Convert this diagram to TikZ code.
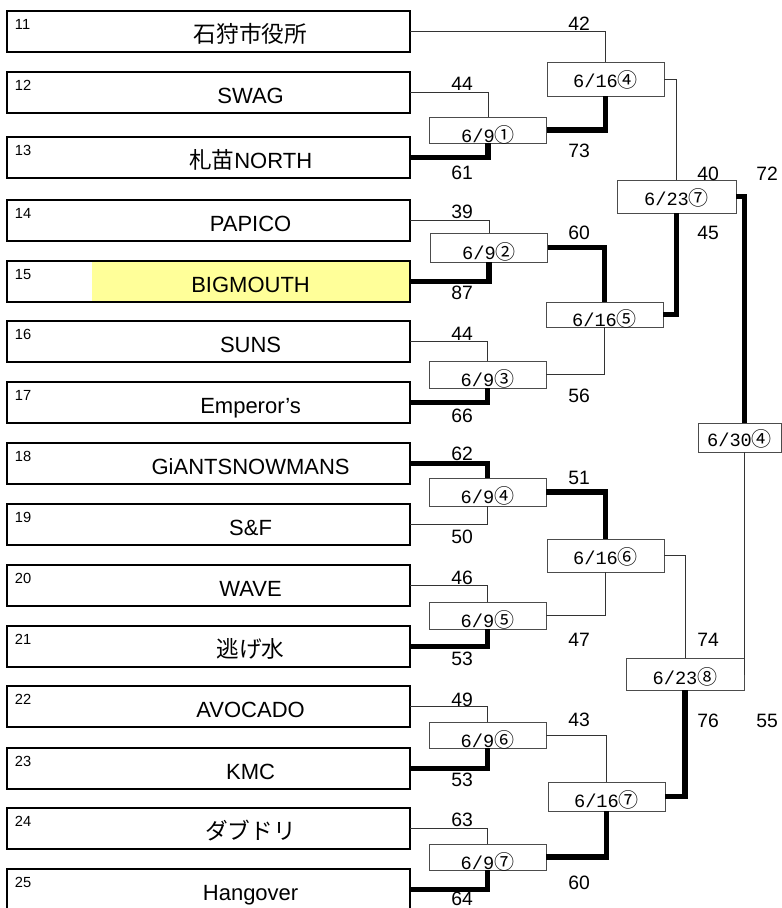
\documentclass[tikz,border=0pt]{standalone}
\usepackage{fontspec}
\setmainfont{Liberation Sans}
\newfontfamily\jp{Noto Sans CJK JP}
\newfontfamily\gfont{Liberation Mono}
\usepackage{tikz}
\usetikzlibrary{positioning,calc}
\definecolor{hilite}{HTML}{FFFF99}
\tikzset{
    % Define winner line
    win/.style={
           line width=4pt,
           black},
    % Define loser line
    lose/.style={
           line width=0.75pt,
           black!80}
}
\newcommand{\teamwidth}{302.25pt}
\newcommand{\teamheight}{30.75pt}
\newcommand{\gamewidth}{87.75pt}
\newcommand{\maru}[1]{{\jp\fontsize{15pt}{15pt}\selectfont #1}}
\newcommand{\jpname}[1]{{\jp\fontsize{17pt}{20pt}\selectfont #1}}

\begin{document}
\begin{tikzpicture}[x=0.75pt, y=-0.75pt, node distance=0cm, outer sep=0pt]
\tikzstyle{team}=[draw, rectangle, line width=1.6pt, minimum height=\teamheight, minimum width=\teamwidth, anchor=north west]
\tikzstyle{tname}=[rectangle, minimum height=29pt, minimum width=237.5pt, anchor=east, text height=15.75pt, text depth=0pt, font=\fontsize{16.5pt}{19pt}\selectfont]
\tikzstyle{tnum}=[anchor=north west, inner sep=0pt, font=\fontsize{11pt}{13pt}\selectfont]
\tikzstyle{game}=[draw=black!70, rectangle, line width=0.75pt, minimum width=\gamewidth, anchor=north west]
\tikzstyle{gtext}=[anchor=base, inner sep=0pt, font=\gfont\fontsize{14pt}{16pt}\selectfont]
\tikzstyle{score}=[inner sep=0pt, font=\fontsize{14.5pt}{16pt}\selectfont]

\useasboundingbox (0,0) rectangle (782,908);

\node[team] (t11) at (7,11) {};
\node[team] (t12) at (7,72) {};
\node[team] (t13) at (7,137) {};
\node[team] (t14) at (7,200) {};
\node[team] (t15) at (7,261) {};
\node[team] (t16) at (7,321) {};
\node[team] (t17) at (7,382) {};
\node[team] (t18) at (7,443) {};
\node[team] (t19) at (7,504) {};
\node[team] (t20) at (7,565) {};
\node[team] (t21) at (7,626) {};
\node[team] (t22) at (7,686) {};
\node[team] (t23) at (7,748) {};
\node[team] (t24) at (7,808) {};
\node[team] (t25) at (7,869) {};

\node[tname] (n11) at ([xshift=-0.8pt]t11.east) {\jpname{石狩市役所}};
\node[tname] (n12) at ([xshift=-0.8pt]t12.east) {SWAG};
\node[tname] (n13) at ([xshift=-0.8pt]t13.east) {\jpname{札苗}NORTH};
\node[tname] (n14) at ([xshift=-0.8pt]t14.east) {PAPICO};
\node[tname, fill=hilite] (n15) at ([xshift=-0.8pt]t15.east) {BIGMOUTH};
\node[tname] (n16) at ([xshift=-0.8pt]t16.east) {SUNS};
\node[tname] (n17) at ([xshift=-0.8pt]t17.east) {Emperor’s};
\node[tname] (n18) at ([xshift=-0.8pt]t18.east) {GiANTSNOWMANS};
\node[tname] (n19) at ([xshift=-0.8pt]t19.east) {S\&F};
\node[tname] (n20) at ([xshift=-0.8pt]t20.east) {WAVE};
\node[tname] (n21) at ([xshift=-0.8pt]t21.east) {\jpname{逃げ水}};
\node[tname] (n22) at ([xshift=-0.8pt]t22.east) {AVOCADO};
\node[tname] (n23) at ([xshift=-0.8pt]t23.east) {KMC};
\node[tname] (n24) at ([xshift=-0.8pt]t24.east) {\jpname{ダブドリ}};
\node[tname] (n25) at ([xshift=-0.8pt]t25.east) {Hangover};

\node[tnum] (k11) at ([xshift=6pt,yshift=-6.5pt]t11.north west) {11};
\node[tnum] (k12) at ([xshift=6pt,yshift=-6.5pt]t12.north west) {12};
\node[tnum] (k13) at ([xshift=6pt,yshift=-6.5pt]t13.north west) {13};
\node[tnum] (k14) at ([xshift=6pt,yshift=-6.5pt]t14.north west) {14};
\node[tnum] (k15) at ([xshift=6pt,yshift=-6.5pt]t15.north west) {15};
\node[tnum] (k16) at ([xshift=6pt,yshift=-6.5pt]t16.north west) {16};
\node[tnum] (k17) at ([xshift=6pt,yshift=-6.5pt]t17.north west) {17};
\node[tnum] (k18) at ([xshift=6pt,yshift=-6.5pt]t18.north west) {18};
\node[tnum] (k19) at ([xshift=6pt,yshift=-6.5pt]t19.north west) {19};
\node[tnum] (k20) at ([xshift=6pt,yshift=-6.5pt]t20.north west) {20};
\node[tnum] (k21) at ([xshift=6pt,yshift=-6.5pt]t21.north west) {21};
\node[tnum] (k22) at ([xshift=6pt,yshift=-6.5pt]t22.north west) {22};
\node[tnum] (k23) at ([xshift=6pt,yshift=-6.5pt]t23.north west) {23};
\node[tnum] (k24) at ([xshift=6pt,yshift=-6.5pt]t24.north west) {24};
\node[tnum] (k25) at ([xshift=6pt,yshift=-6.5pt]t25.north west) {25};

% 6/9
\node[game, minimum height=19.5pt] (g1) at (429.5,117) {};
\node[game, minimum height=21.75pt] (g2) at (430.5,233) {};
\node[game, minimum height=20.25pt] (g3) at (429,361) {};
\node[game, minimum height=21pt] (g4) at (429,478) {};
\node[game, minimum height=20.25pt] (g5) at (429,602) {};
\node[game, minimum height=19.5pt] (g6) at (429,722) {};
\node[game, minimum height=19.5pt] (g7) at (429,844) {};
% 6/16
\node[game, minimum height=25.5pt] (s4) at (547,62) {};
\node[game, minimum height=18.75pt] (s5) at (546,302) {};
\node[game, minimum height=24.75pt] (s6) at (547,539) {};
\node[game, minimum height=21.75pt] (s7) at (548,782) {};
% 6/23, 6/30
\node[game, minimum height=24.75pt, minimum width=89.25pt] (q7) at (617,180) {};
\node[game, minimum height=24pt, minimum width=88.5pt] (q8) at (626,658) {};
\node[game, minimum height=21.75pt, minimum width=62.25pt] (f4) at (698,423) {};

\node[gtext] (g1t) at ($(g1.north)+(0,25)$) {6/9\maru{①}};
\node[gtext] (g2t) at ($(g2.north)+(0,26)$) {6/9\maru{②}};
\node[gtext] (g3t) at ($(g3.north)+(0,25.5)$) {6/9\maru{③}};
\node[gtext] (g4t) at ($(g4.north)+(0,25)$) {6/9\maru{④}};
\node[gtext] (g5t) at ($(g5.north)+(0,25)$) {6/9\maru{⑤}};
\node[gtext] (g6t) at ($(g6.north)+(0,25)$) {6/9\maru{⑥}};
\node[gtext] (g7t) at ($(g7.north)+(0,25)$) {6/9\maru{⑦}};
\node[gtext] (s4t) at ($(s4.north)+(0,25)$) {6/16\maru{④}};
\node[gtext] (s5t) at ($(s5.north)+(0,24)$) {6/16\maru{⑤}};
\node[gtext] (s6t) at ($(s6.north)+(0,25)$) {6/16\maru{⑥}};
\node[gtext] (s7t) at ($(s7.north)+(0,25)$) {6/16\maru{⑦}};
\node[gtext] (q7t) at ($(q7.north)+(0,25)$) {6/23\maru{⑦}};
\node[gtext] (q8t) at ($(q8.north)+(0,26)$) {6/23\maru{⑧}};
\node[gtext] (f4t) at ($(f4.north)+(0,23)$) {6/30\maru{④}};

% scores
\node[score] (pt12) at (462,84) {44};
\node[score] (pt13) at (462,172.5) {61};
\node[score] (pt14) at (462,212) {39};
\node[score] (pt15) at (462,292.5) {87};
\node[score] (pt16) at (462,333.5) {44};
\node[score] (pt17) at (462,415.5) {66};
\node[score] (pt18) at (462,454) {62};
\node[score] (pt19) at (462,536.5) {50};
\node[score] (pt20) at (462,578) {46};
\node[score] (pt21) at (462,658.5) {53};
\node[score] (pt22) at (462,699.5) {49};
\node[score] (pt23) at (462,779.5) {53};
\node[score] (pt24) at (462,820) {63};
\node[score] (pt25) at (462,899) {64};
\node[score] (pt11) at (579,23.5) {42};
\node[score] (ptg1) at (579,150.5) {73};
\node[score] (ptg2) at (579,232.5) {60};
\node[score] (ptg3) at (579,395.5) {56};
\node[score] (ptg4) at (579,477.5) {51};
\node[score] (ptg5) at (579,639.5) {47};
\node[score] (ptg6) at (579,720) {43};
\node[score] (ptg7) at (579,882.5) {60};
\node[score] (pts4) at (708,173.5) {40};
\node[score] (pts5) at (708,232.5) {45};
\node[score] (pts6) at (708,639.5) {74};
\node[score] (pts7) at (708,720.5) {76};
\node[score] (ptq7) at (767,173.5) {72};
\node[score] (ptq8) at (767,720.5) {55};

\draw[lose] (t12.east) -| (g1.north);
\draw[win] (t13.east) -| (g1.south);
\draw[lose] (t14.east) -| (g2.north);
\draw[win] (t15.east) -| (g2.south);
\draw[lose] (t16.east) -| (g3.north);
\draw[win] (t17.east) -| (g3.south);
\draw[win] (t18.east) -| (g4.north);
\draw[lose] (t19.east) -| (g4.south);
\draw[lose] (t20.east) -| (g5.north);
\draw[win] (t21.east) -| (g5.south);
\draw[lose] (t22.east) -| (g6.north);
\draw[win] (t23.east) -| (g6.south);
\draw[lose] (t24.east) -| (g7.north);
\draw[win] (t25.east) -| (g7.south);

\draw[lose] (t11.east) -| (s4.north);
\draw[win] (g1.east) -| (s4.south);
\draw[win] (g2.east) -| (s5.north);
\draw[lose] (g3.east) -| (s5.south);
\draw[win] (g4.east) -| (s6.north);
\draw[lose] (g5.east) -| (s6.south);
\draw[lose] (g6.east) -| (s7.north);
\draw[win] (g7.east) -| (s7.south);

\draw[lose] (s4.east) -| (q7.north);
\draw[win] (s5.east) -| (q7.south);
\draw[lose] (s6.east) -| (q8.north);
\draw[win] (s7.east) -| (q8.south);

\draw[win] (q7.east) -| ([xshift=3.75pt]f4.north);
\draw[lose] (q8.east) -| ([xshift=3.75pt]f4.south);

\end{tikzpicture}
\end{document}
